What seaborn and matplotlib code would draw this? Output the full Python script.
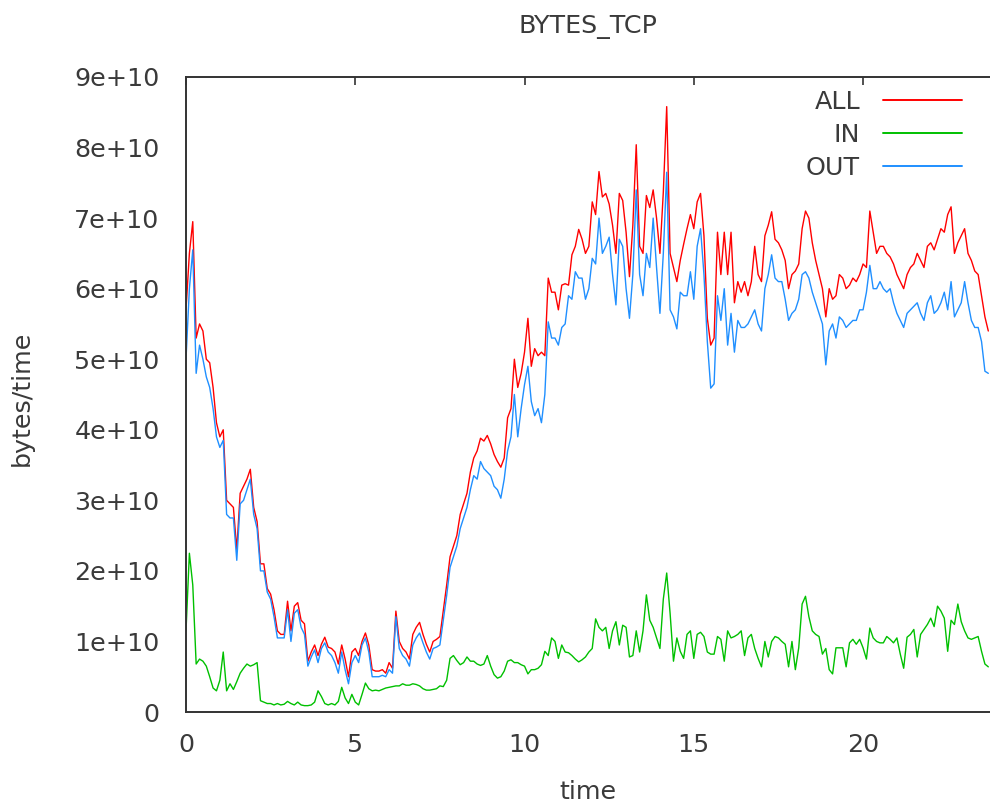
import numpy as np
import pandas as pd
import matplotlib
matplotlib.use("Agg")
import matplotlib.pyplot as plt
from matplotlib.lines import Line2D
from matplotlib.ticker import FuncFormatter
import seaborn as sns

# Samples every 0.1 h, values in units of 1e10 bytes
STEP_H = 0.1
UNIT = 1e10

all_bytes = [
    5.7, 6.5, 6.95, 5.3, 5.5, 5.4, 5.0, 4.95, 4.6, 4.1,
    3.9, 4.0, 3.0, 2.95, 2.9, 2.3, 3.1, 3.2, 3.3, 3.44,
    2.9, 2.7, 2.1, 2.1, 1.75, 1.67, 1.45, 1.15, 1.1, 1.1,
    1.57, 1.15, 1.5, 1.55, 1.3, 1.25, 0.72, 0.85, 0.95, 0.8,
    0.96, 1.06, 0.92, 0.9, 0.85, 0.68, 0.95, 0.75, 0.5, 0.85,
    0.9, 0.8, 1.0, 1.12, 0.95, 0.6, 0.58, 0.58, 0.6, 0.55,
    0.7, 0.62, 1.43, 1.0, 0.9, 0.85, 0.75, 1.1, 1.2, 1.27,
    1.1, 0.96, 0.85, 1.0, 1.03, 1.07, 1.43, 1.8, 2.2, 2.35,
    2.5, 2.8, 2.95, 3.1, 3.4, 3.6, 3.7, 3.88, 3.84, 3.92,
    3.8, 3.65, 3.55, 3.47, 3.6, 4.17, 4.3, 5.0, 4.6, 4.8,
    5.1, 5.58, 4.9, 5.15, 5.05, 5.1, 5.05, 6.15, 5.95, 5.95,
    5.7, 6.05, 6.07, 6.05, 6.48, 6.6, 6.84, 6.7, 6.5, 6.6,
    7.23, 7.05, 7.66, 7.3, 7.35, 7.2, 6.9, 6.5, 7.35, 7.25,
    6.8, 6.17, 6.9, 8.04, 6.6, 6.5, 7.32, 7.15, 7.4, 7.0,
    6.5, 7.37, 8.58, 6.5, 6.3, 6.1, 6.4, 6.63, 6.85, 7.05,
    6.85, 7.23, 7.35, 6.75, 5.58, 5.2, 5.3, 6.8, 6.2, 6.8,
    6.2, 6.8, 5.8, 6.1, 5.95, 6.1, 5.9, 6.1, 6.6, 6.2,
    6.1, 6.75, 6.9, 7.09, 6.7, 6.65, 6.55, 6.4, 6.0, 6.2,
    6.25, 6.35, 6.85, 7.1, 7.0, 6.65, 6.4, 6.2, 6.0, 5.6,
    6.0, 5.85, 5.9, 6.2, 6.15, 6.0, 6.05, 6.15, 6.1, 6.2,
    6.35, 6.3, 7.1, 6.8, 6.5, 6.6, 6.6, 6.5, 6.45, 6.35,
    6.2, 6.1, 6.0, 6.2, 6.3, 6.35, 6.5, 6.4, 6.3, 6.6,
    6.65, 6.55, 6.7, 6.85, 6.8, 7.05, 7.16, 6.5, 6.65, 6.75,
    6.85, 6.5, 6.4, 6.25, 6.2, 5.9, 5.6, 5.4,
]

in_bytes = [
    1.15, 2.25, 1.8, 0.68, 0.75, 0.72, 0.65, 0.5, 0.34, 0.3,
    0.45, 0.85, 0.3, 0.4, 0.32, 0.43, 0.55, 0.62, 0.68, 0.65,
    0.67, 0.7, 0.16, 0.14, 0.12, 0.12, 0.1, 0.12, 0.1, 0.11,
    0.15, 0.12, 0.1, 0.14, 0.1, 0.09, 0.09, 0.1, 0.14, 0.3,
    0.22, 0.12, 0.1, 0.12, 0.1, 0.15, 0.35, 0.2, 0.12, 0.25,
    0.14, 0.1, 0.25, 0.41, 0.33, 0.3, 0.31, 0.3, 0.32, 0.34,
    0.35, 0.36, 0.37, 0.37, 0.4, 0.38, 0.38, 0.4, 0.39, 0.37,
    0.33, 0.31, 0.31, 0.32, 0.33, 0.37, 0.36, 0.45, 0.76, 0.8,
    0.73, 0.67, 0.7, 0.78, 0.72, 0.72, 0.68, 0.66, 0.68, 0.8,
    0.65, 0.53, 0.48, 0.5, 0.58, 0.72, 0.74, 0.7, 0.7, 0.67,
    0.65, 0.54, 0.6, 0.6, 0.62, 0.67, 0.86, 0.8, 1.05, 1.0,
    0.76, 0.95, 0.85, 0.84, 0.8, 0.75, 0.71, 0.74, 0.78, 0.85,
    0.9, 1.32, 1.2, 1.15, 1.2, 0.9, 1.15, 1.28, 0.95, 1.23,
    1.2, 0.78, 0.8, 1.15, 0.85, 1.15, 1.66, 1.3, 1.2, 1.05,
    0.9, 1.6, 1.97, 1.4, 0.72, 1.05, 0.86, 0.76, 1.1, 1.15,
    0.76, 1.1, 1.13, 1.07, 0.85, 0.82, 0.82, 1.07, 1.03, 0.72,
    1.15, 1.05, 1.07, 1.1, 1.15, 0.8, 1.05, 1.1, 0.9, 0.76,
    0.64, 1.0, 0.78, 1.0, 1.07, 1.05, 1.0, 0.96, 0.64, 1.0,
    0.6, 0.91, 1.53, 1.64, 1.35, 1.15, 1.1, 1.07, 0.82, 0.9,
    0.6, 0.54, 0.91, 0.91, 0.91, 0.64, 0.98, 1.03, 0.96, 1.03,
    0.91, 0.75, 1.19, 1.05, 1.0, 0.98, 0.98, 1.07, 1.03, 0.98,
    1.05, 0.82, 0.62, 1.06, 1.1, 1.17, 0.78, 1.1, 1.17, 1.24,
    1.33, 1.21, 1.5, 1.43, 1.33, 0.86, 1.3, 1.24, 1.53, 1.28,
    1.15, 1.05, 1.03, 1.05, 1.07, 0.86, 0.68, 0.64,
]

out_bytes = [
    5.0, 6.0, 6.55, 4.8, 5.2, 5.0, 4.75, 4.6, 4.3, 3.9,
    3.75, 3.85, 2.8, 2.75, 2.75, 2.15, 2.95, 3.0, 3.15, 3.3,
    2.8, 2.6, 2.0, 2.0, 1.7, 1.6, 1.35, 1.05, 1.05, 1.05,
    1.45, 1.0, 1.4, 1.45, 1.2, 1.1, 0.65, 0.78, 0.88, 0.7,
    0.9, 0.98, 0.85, 0.8, 0.7, 0.55, 0.85, 0.6, 0.4, 0.7,
    0.8, 0.7, 0.95, 1.05, 0.85, 0.5, 0.5, 0.5, 0.52, 0.5,
    0.6, 0.55, 1.35, 0.9, 0.8, 0.75, 0.65, 0.95, 1.05, 1.12,
    0.98, 0.85, 0.75, 0.9, 0.92, 0.95, 1.3, 1.65, 2.05, 2.2,
    2.35, 2.6, 2.75, 2.9, 3.15, 3.35, 3.3, 3.55, 3.45, 3.4,
    3.35, 3.2, 3.15, 3.03, 3.3, 3.7, 3.9, 4.5, 3.9, 4.3,
    4.64, 4.9, 4.4, 4.2, 4.3, 4.1, 4.5, 5.53, 5.3, 5.3,
    5.2, 5.45, 5.5, 5.9, 5.85, 6.24, 6.15, 6.15, 5.85, 6.0,
    6.43, 6.35, 7.0, 6.5, 6.6, 6.73, 6.2, 5.77, 6.7, 6.6,
    6.0, 5.58, 6.2, 7.4, 6.2, 5.9, 6.5, 6.3, 7.0, 6.3,
    5.65, 6.5, 7.65, 5.7, 5.6, 5.43, 5.95, 5.9, 5.9, 6.24,
    5.85, 6.6, 6.85, 6.2, 5.25, 4.59, 4.65, 5.9, 5.55, 6.0,
    5.2, 5.65, 5.1, 5.55, 5.45, 5.45, 5.5, 5.6, 5.7, 5.5,
    5.4, 6.0, 6.2, 6.48, 6.15, 6.1, 6.1, 5.85, 5.55, 5.65,
    5.7, 5.85, 6.2, 6.24, 6.15, 5.95, 5.8, 5.65, 5.5, 4.92,
    5.4, 5.5, 5.3, 5.6, 5.55, 5.45, 5.5, 5.55, 5.55, 5.7,
    5.7, 5.95, 6.33, 6.0, 6.0, 6.1, 6.0, 5.95, 6.0, 5.8,
    5.65, 5.55, 5.45, 5.65, 5.7, 5.75, 5.8, 5.65, 5.55, 5.8,
    5.9, 5.65, 5.7, 5.8, 5.95, 5.7, 6.1, 5.6, 5.7, 5.8,
    6.1, 5.8, 5.55, 5.45, 5.45, 5.25, 4.83, 4.8,
]

series_names = ["ALL", "IN", "OUT"]
series_colors = ["#ff0000", "#00c000", "#1f8fff"]
x_ticks = [0, 5, 10, 15, 20]
y_ticks = [i * UNIT for i in range(10)]

time_h = np.arange(len(all_bytes)) * STEP_H
df = pd.DataFrame({
    "time": np.tile(time_h, 3),
    "bytes": np.concatenate([all_bytes, in_bytes, out_bytes]) * UNIT,
    "series": np.repeat(series_names, len(time_h)),
})

sns.set_style("white")
plt.rcParams["font.family"] = ["DejaVu Sans"]
TEXT = "#3a3a3a"
FS = 18.3

W, H = 990, 806
fig = plt.figure(figsize=(W / 100, H / 100), dpi=100)
left, right, top, bottom = 186, 990, 77, 712
ax = fig.add_axes([left / W, 1 - bottom / H, (right - left) / W, (bottom - top) / H])

sns.lineplot(
    data=df, x="time", y="bytes", hue="series", hue_order=series_names,
    palette=dict(zip(series_names, series_colors)), linewidth=1.0,
    estimator=None, sort=False, legend=False, ax=ax,
)

ax.set_xlim(0, 23.75)
ax.set_ylim(0, 9 * UNIT)
ax.set_xticks(x_ticks)
ax.set_yticks(y_ticks)
ax.yaxis.set_major_formatter(FuncFormatter(lambda v, _: "0" if v == 0 else "%g" % v))
ax.set_xlabel("")
ax.set_ylabel("")

for side in ("left", "bottom", "top"):
    ax.spines[side].set_color("#333333")
    ax.spines[side].set_linewidth(1.4)
ax.spines["right"].set_visible(False)
ax.tick_params(axis="both", direction="in", length=6, width=1.2, color="#333333",
               labelsize=FS, labelcolor=TEXT)
ax.tick_params(axis="x", top=True, pad=15)
ax.tick_params(axis="y", right=False, pad=19)

fig.text(588 / W, 1 - 27 / H, "BYTES_TCP", ha="center", va="center", fontsize=FS, color=TEXT)
fig.text(588 / W, 1 - 792 / H, "time", ha="center", va="center", fontsize=FS, color=TEXT)
fig.text(22 / W, 1 - 398 / H, "bytes/time", ha="center", va="center", rotation=90,
         fontsize=FS, color=TEXT)

handles = [Line2D([], [], color=c, linewidth=1.4) for c in series_colors]
ax.legend(handles, series_names, loc="upper right", bbox_to_anchor=(0.965, 0.98),
          frameon=False, markerfirst=False, handlelength=3.1, handletextpad=0.9,
          labelspacing=0.36, borderaxespad=0, borderpad=0, fontsize=FS, labelcolor=TEXT)

fig.savefig("out.png", dpi=100)
